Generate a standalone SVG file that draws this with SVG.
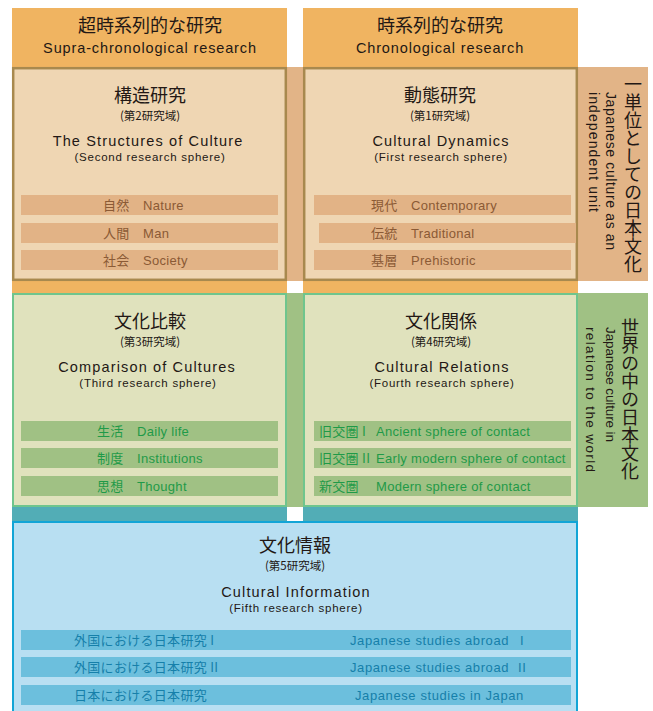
<svg xmlns="http://www.w3.org/2000/svg" width="653" height="711" viewBox="0 0 653 711">
  <style>
    text { font-family: "Noto Sans CJK JP", "Noto Sans", sans-serif; fill: #231815; }
    .lat { font-family: "Liberation Sans", Arial, sans-serif; }
    .h1 { font-size: 18px; text-anchor: middle; }
    .h2 { font-size: 14.5px; text-anchor: middle; letter-spacing: 0.87px; }
    .t1 { font-size: 18px; text-anchor: middle; }
    .t2 { font-size: 11.5px; text-anchor: middle; }
    .t3 { font-size: 14.5px; text-anchor: middle; letter-spacing: 1.15px; }
    .t4 { font-size: 11.5px; text-anchor: middle; letter-spacing: 0.75px; }
    .bar { font-size: 13px; letter-spacing: 0.3px; }
    .wide { letter-spacing: 0.6px; }
    .brown { fill: #8b5a35; }
    .green { fill: #1f9a48; }
    .blue { fill: #1680aa; }
    .vj { font-size: 18px; writing-mode: vertical-rl; }
    .ve { font-size: 14px; }
    .ve2 { font-size: 13.5px; }
  </style>

  <!-- column backgrounds and cross bands -->
  <g id="bands">
    <rect x="12" y="8" width="275" height="285" fill="#f0b461"/>
    <rect x="303" y="8" width="275" height="285" fill="#f0b461"/>
    <rect x="287" y="67" width="361" height="214" fill="#e2b487"/>
    <rect x="287" y="293" width="361" height="214" fill="#a0c184"/>
    <rect x="12" y="507" width="275" height="15" fill="#52adb6"/>
    <rect x="303" y="507" width="275" height="15" fill="#52adb6"/>
  </g>

  <!-- column headers -->
  <g id="header-supra">
    <text class="h1" x="150" y="31.5">超時系列的な研究</text>
    <text class="h2 lat" x="150" y="53">Supra-chronological research</text>
  </g>
  <g id="header-chrono">
    <text class="h1" x="440" y="31.5">時系列的な研究</text>
    <text class="h2 lat" x="440" y="53">Chronological research</text>
  </g>

  <!-- 構造研究 -->
  <g id="structures">
    <rect x="13.2" y="68.2" width="272.6" height="211.6" fill="#efd6b3" stroke="#a8894e" stroke-width="2.5"/>
    <text class="t1" x="150" y="101.5">構造研究</text>
    <text class="t2" x="150" y="120">(第2研究域)</text>
    <text class="t3 lat" x="148" y="146.3">The Structures of Culture</text>
    <text class="t4 lat" x="150" y="161">(Second research sphere)</text>
    <rect x="21" y="195" width="257" height="20" fill="#e2b386"/>
    <rect x="21" y="223" width="257" height="20" fill="#e2b386"/>
    <rect x="21" y="250" width="257" height="20" fill="#e2b386"/>
    <text class="bar brown" x="103" y="209.7">自然</text>
    <text class="bar brown lat" x="143" y="209.7">Nature</text>
    <text class="bar brown" x="103" y="237.7">人間</text>
    <text class="bar brown lat" x="143" y="237.7">Man</text>
    <text class="bar brown" x="103" y="264.7">社会</text>
    <text class="bar brown lat" x="143" y="264.7">Society</text>
  </g>

  <!-- 動態研究 -->
  <g id="dynamics">
    <rect x="304.2" y="68.2" width="272.6" height="211.6" fill="#efd6b3" stroke="#a8894e" stroke-width="2.5"/>
    <text class="t1" x="440" y="101.5">動態研究</text>
    <text class="t2" x="440" y="120">(第1研究域)</text>
    <text class="t3 lat" x="441" y="146.3">Cultural Dynamics</text>
    <text class="t4 lat" x="441" y="161">(First research sphere)</text>
    <rect x="314" y="195" width="257" height="20" fill="#e2b386"/>
    <rect x="319" y="223" width="257" height="20" fill="#e2b386"/>
    <rect x="314" y="250" width="257" height="20" fill="#e2b386"/>
    <text class="bar brown" x="371" y="209.7">現代</text>
    <text class="bar brown lat" x="411" y="209.7">Contemporary</text>
    <text class="bar brown" x="371" y="237.7">伝統</text>
    <text class="bar brown lat" x="411" y="237.7">Traditional</text>
    <text class="bar brown" x="371" y="264.7">基層</text>
    <text class="bar brown lat" x="411" y="264.7">Prehistoric</text>
  </g>

  <!-- 一単位としての日本文化 -->
  <g id="label-unit">
    <text class="vj" x="633" y="75">一単位としての日本文化</text>
    <text class="ve lat" transform="translate(606 92) rotate(90)" textLength="158" lengthAdjust="spacing">Japanese culture as an</text>
    <text class="ve lat" transform="translate(589 92) rotate(90)" textLength="120" lengthAdjust="spacing">independent unit</text>
  </g>

  <!-- 文化比較 -->
  <g id="comparison">
    <rect x="13" y="294" width="273" height="212" fill="#e0e2bd" stroke="#6fc58d" stroke-width="2"/>
    <text class="t1" x="150" y="327.5">文化比較</text>
    <text class="t2" x="150" y="346">(第3研究域)</text>
    <text class="t3 lat" x="147" y="372.3">Comparison of Cultures</text>
    <text class="t4 lat" x="148" y="387">(Third research sphere)</text>
    <rect x="21" y="421" width="257" height="20" fill="#a0c184"/>
    <rect x="21" y="448" width="257" height="20" fill="#a0c184"/>
    <rect x="21" y="476" width="257" height="20" fill="#a0c184"/>
    <text class="bar green" x="97" y="435.7">生活</text>
    <text class="bar green lat" x="137" y="435.7">Daily life</text>
    <text class="bar green" x="97" y="462.7">制度</text>
    <text class="bar green lat" x="137" y="462.7">Institutions</text>
    <text class="bar green" x="97" y="490.7">思想</text>
    <text class="bar green lat" x="137" y="490.7">Thought</text>
  </g>

  <!-- 文化関係 -->
  <g id="relations">
    <rect x="304" y="294" width="273" height="212" fill="#e0e2bd" stroke="#6fc58d" stroke-width="2"/>
    <text class="t1" x="441" y="327.5">文化関係</text>
    <text class="t2" x="441" y="346">(第4研究域)</text>
    <text class="t3 lat" x="442" y="372.3">Cultural Relations</text>
    <text class="t4 lat" x="442" y="387">(Fourth research sphere)</text>
    <rect x="314" y="421" width="257" height="20" fill="#a0c184"/>
    <rect x="314" y="448" width="257" height="20" fill="#a0c184"/>
    <rect x="314" y="476" width="257" height="20" fill="#a0c184"/>
    <text class="bar green" x="319" y="435.7">旧交圏 I</text>
    <text class="bar green lat" x="376" y="435.7">Ancient sphere of contact</text>
    <text class="bar green" x="319" y="462.7">旧交圏 II</text>
    <text class="bar green lat" x="376" y="462.7">Early modern sphere of contact</text>
    <text class="bar green" x="319" y="490.7">新交圏</text>
    <text class="bar green lat" x="376" y="490.7">Modern sphere of contact</text>
  </g>

  <!-- 世界の中の日本文化 -->
  <g id="label-world">
    <text class="vj" x="630" y="318">世界の中の日本文化</text>
    <text class="ve2 lat" transform="translate(606 327) rotate(90)" textLength="115" lengthAdjust="spacing">Japanese culture in</text>
    <text class="ve2 lat" transform="translate(586 327) rotate(90)" textLength="145" lengthAdjust="spacing">relation to the world</text>
  </g>

  <!-- 文化情報 -->
  <g id="information">
    <rect x="13" y="522" width="564" height="200" fill="#b8dff2" stroke="#12a5d6" stroke-width="2"/>
    <text class="t1" x="295" y="551.5">文化情報</text>
    <text class="t2" x="295" y="570">(第5研究域)</text>
    <text class="t3 lat" x="296" y="597">Cultural Information</text>
    <text class="t4 lat" x="296" y="611.5">(Fifth research sphere)</text>
    <rect x="21" y="630" width="550" height="20" fill="#6cbfdd"/>
    <rect x="21" y="657" width="550" height="20" fill="#6cbfdd"/>
    <rect x="21" y="685" width="550" height="20" fill="#6cbfdd"/>
    <text class="bar blue" x="74" y="644.7">外国における日本研究 I</text>
    <text class="bar blue lat wide" x="350" y="644.7">Japanese studies abroad<tspan x="520">I</tspan></text>
    <text class="bar blue" x="74" y="671.7">外国における日本研究 II</text>
    <text class="bar blue lat wide" x="350" y="671.7">Japanese studies abroad<tspan x="518">II</tspan></text>
    <text class="bar blue" x="74" y="699.7">日本における日本研究</text>
    <text class="bar blue lat wide" x="355" y="699.7">Japanese studies in Japan</text>
  </g>

  <g id="connectors"/>
</svg>
